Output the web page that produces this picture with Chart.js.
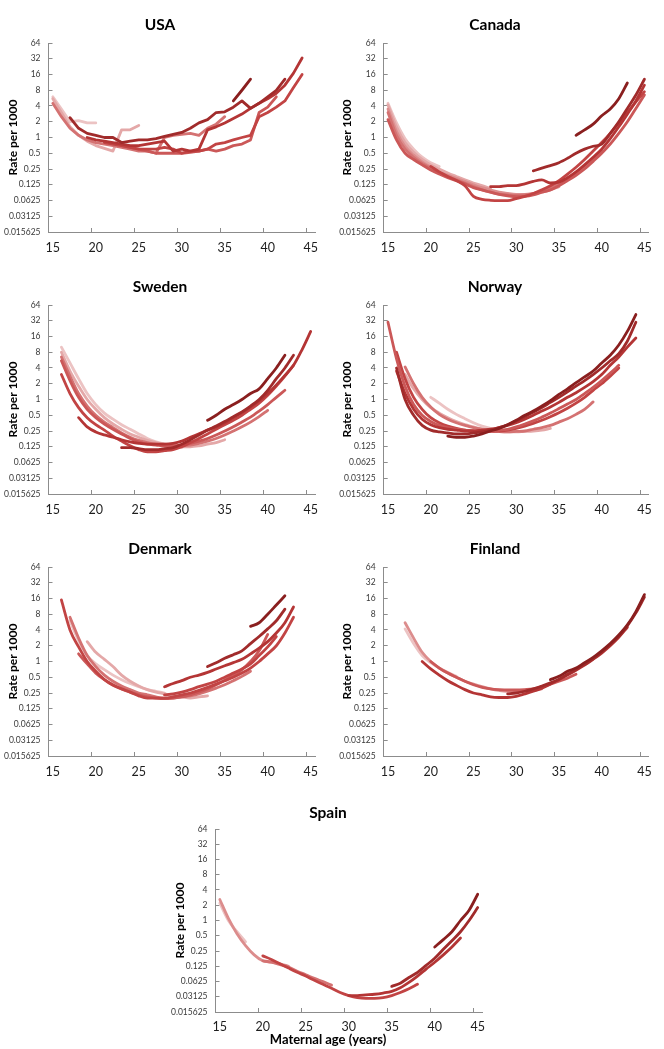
<!DOCTYPE html>
<html>
<head>
<meta charset="utf-8">
<script src="https://cdn.jsdelivr.net/npm/chart.js@4/dist/chart.umd.min.js"></script>
<style>
html,body{margin:0;padding:0;background:#ffffff;}
body{width:664px;height:1049px;position:relative;overflow:hidden;}
canvas{position:absolute;}
</style>
</head>
<body>
<canvas id="usa" width="332" height="262" style="left:0px;top:0px;"></canvas>
<canvas id="canada" width="332" height="262" style="left:332px;top:0px;"></canvas>
<canvas id="sweden" width="332" height="262" style="left:0px;top:262px;"></canvas>
<canvas id="norway" width="332" height="262" style="left:332px;top:262px;"></canvas>
<canvas id="denmark" width="332" height="262" style="left:0px;top:524px;"></canvas>
<canvas id="finland" width="332" height="262" style="left:332px;top:524px;"></canvas>
<canvas id="spain" width="340" height="261" style="left:160px;top:788px;"></canvas>
<script>
// ---------- categories & tick labels ----------
const ages = [15,16,17,18,19,20,21,22,23,24,25,26,27,28,29,30,31,32,33,34,35,36,37,38,39,40,41,42,43,44,45];
const yTickValues = [0.015625,0.03125,0.0625,0.125,0.25,0.5,1,2,4,8,16,32,64];
const yTickLabels = ['0.015625','0.03125','0.0625','0.125','0.25','0.5','1','2','4','8','16','32','64'];
const yAxisTitle = 'Rate per 1000';
const xAxisTitle = 'Maternal age (years)';

// ---------- USA ----------
const usaStartAge = [36, 17, 19, 21, 23, 15, 15, 15];
const usaRates = [
  [5, 8, 13],
  [2.4,1.5,1.2,1.1,1.0,1.0,0.8,0.85,0.9,0.9,0.95,1.05,1.15,1.25,1.5,1.9,2.2,3.0,3.1,3.8,5.0,3.6,4.5,6.0,8.0,13],
  [1.0,0.9,0.85,0.8,0.75,0.7,0.7,0.75,0.8,0.85,0.55,0.6,0.55,0.6,1.4,1.6,1.9,2.3,2.8,3.6,4.5,5.5,7,10,17,33],
  [0.8,0.75,0.7,0.65,0.6,0.6,0.6,0.65,0.6,0.5,0.55,0.55,0.6,0.75,0.8,0.9,1.0,1.1,2.5,3,3.8,5,9,16],
  [0.7,0.65,0.6,0.55,0.5,0.5,0.5,0.5,0.52,0.55,0.6,0.55,0.6,0.7,0.75,0.9,3.0,3.8,6],
  [4.5,2.5,1.5,1.1,0.9,0.8,0.75,0.7,0.65,0.6,0.55,0.55,0.5,1.0,1.1,1.15,1.2,1.1,1.5,1.8,2.5],
  [5.5,3,1.6,1.1,0.85,0.7,0.62,0.55,1.4,1.4,1.7],
  [6,3.5,2.0,2.1,1.9,1.9]
];

// ---------- Canada ----------
const canadaStartAge = [37, 32, 27, 20, 15, 15, 15, 15, 15];
const canadaRates = [
  [1.1,1.4,1.8,2.6,3.5,5.5,11],
  [0.23,0.26,0.29,0.33,0.4,0.5,0.6,0.68,0.75,1.2,2.0,3.6,6.5,13],
  [0.115,0.115,0.12,0.12,0.13,0.145,0.155,0.135,0.14,0.17,0.22,0.3,0.42,0.6,0.95,1.6,2.8,5,10],
  [0.28,0.22,0.18,0.15,0.12,0.075,0.066,0.063,0.062,0.062,0.068,0.075,0.085,0.1,0.12,0.15,0.2,0.27,0.38,0.55,0.8,1.2,1.9,3,4.8,7.5],
  [2.2,0.9,0.5,0.38,0.3,0.24,0.2,0.17,0.15,0.13,0.11,0.1,0.09,0.082,0.077,0.074,0.075,0.08,0.09,0.1,0.12,0.15,0.19,0.25,0.35,0.5,0.75,1.2,2.0,3.6,6.5],
  [3,1.1,0.6,0.42,0.32,0.26,0.21,0.18,0.155,0.135,0.115,0.1,0.09,0.083,0.08,0.078,0.08,0.085,0.095,0.11,0.13,0.16,0.21,0.28,0.38,0.55],
  [3.5,1.3,0.68,0.46,0.34,0.27,0.22,0.19,0.165,0.145,0.125,0.11,0.1,0.09,0.085,0.082,0.082,0.085,0.09,0.1,0.115],
  [4.2,1.6,0.8,0.52,0.38,0.3,0.25,0.21,0.18,0.155,0.135,0.12,0.105],
  [4.5,1.9,0.95,0.6,0.42,0.33,0.28]
];

// ---------- Sweden ----------
const swedenStartAge = [33, 23, 18, 16, 16, 16, 16, 16];
const swedenRates = [
  [0.4,0.5,0.65,0.8,1.0,1.3,1.6,2.5,4,7],
  [0.12,0.12,0.115,0.11,0.11,0.115,0.12,0.14,0.17,0.21,0.26,0.31,0.38,0.47,0.58,0.75,1.0,1.5,2.5,4,7],
  [0.45,0.3,0.24,0.21,0.19,0.17,0.155,0.145,0.14,0.14,0.14,0.145,0.16,0.19,0.22,0.26,0.3,0.36,0.45,0.56,0.72,0.95,1.3,1.9,2.9,4.5,9,20],
  [3,1.3,0.7,0.45,0.33,0.26,0.2,0.16,0.13,0.11,0.1,0.1,0.105,0.11,0.125,0.15,0.18,0.22,0.27,0.33,0.4,0.5,0.65,0.85,1.2,1.8,2.8,4.5],
  [5.5,2.3,1.1,0.65,0.45,0.34,0.27,0.22,0.18,0.155,0.14,0.135,0.13,0.13,0.135,0.145,0.16,0.18,0.21,0.25,0.3,0.37,0.46,0.6,0.8,1.1,1.5],
  [6.5,2.8,1.3,0.75,0.5,0.37,0.29,0.23,0.19,0.165,0.15,0.14,0.135,0.13,0.13,0.135,0.145,0.16,0.18,0.21,0.25,0.3,0.37,0.47,0.62],
  [8,3.5,1.8,1.0,0.65,0.45,0.34,0.27,0.22,0.19,0.165,0.15,0.14,0.13,0.125,0.125,0.13,0.14,0.15,0.17],
  [10,5,2.5,1.3,0.8,0.55,0.42,0.33,0.27,0.22,0.18,0.155,0.14,0.13,0.12]
];

// ---------- Norway ----------
const norwayStartAge = [22, 16, 16, 15, 16, 17, 17, 20];
const norwayRates = [
  [0.2,0.19,0.19,0.2,0.22,0.25,0.28,0.33,0.4,0.5,0.6,0.75,0.95,1.25,1.6,2.1,2.7,3.5,5,7,11,20,42],
  [4,1.0,0.5,0.32,0.26,0.24,0.23,0.22,0.22,0.23,0.24,0.26,0.29,0.33,0.39,0.47,0.57,0.7,0.88,1.1,1.4,1.8,2.3,3,4,5.5,7.5,13,30],
  [3.5,1.3,0.65,0.42,0.33,0.29,0.27,0.26,0.25,0.25,0.26,0.27,0.29,0.32,0.36,0.42,0.5,0.6,0.72,0.88,1.1,1.35,1.7,2.2,3,4.5,6.5,10,15],
  [30,6,1.8,0.8,0.5,0.38,0.32,0.29,0.27,0.26,0.25,0.25,0.25,0.26,0.27,0.3,0.34,0.39,0.46,0.55,0.67,0.82,1.0,1.3,1.7,2.3,3.2,4.5],
  [8,2.5,1.1,0.65,0.45,0.36,0.31,0.28,0.26,0.25,0.245,0.245,0.25,0.26,0.28,0.31,0.35,0.4,0.47,0.56,0.68,0.85,1.1,1.5,2,2.8,4],
  [4.2,2.0,1.1,0.72,0.52,0.42,0.36,0.32,0.29,0.27,0.255,0.245,0.24,0.245,0.25,0.27,0.29,0.32,0.37,0.43,0.52,0.65,0.9],
  [3,1.6,1.0,0.7,0.55,0.45,0.38,0.33,0.3,0.27,0.255,0.245,0.24,0.24,0.245,0.25,0.26,0.28],
  [1.1,0.85,0.65,0.52,0.43,0.36,0.31,0.28,0.26,0.25]
];

// ---------- Denmark ----------
const denmarkStartAge = [38, 33, 28, 28, 16, 18, 17, 19, 17];
const denmarkRates = [
  [4.7,5.5,8,12,18],
  [0.8,0.95,1.15,1.35,1.6,2.2,3,4.2,6,10],
  [0.33,0.38,0.43,0.5,0.55,0.62,0.72,0.83,0.95,1.1,1.4,1.8,2.4,3.5,5.5,11],
  [0.23,0.24,0.26,0.29,0.33,0.37,0.42,0.5,0.6,0.72,0.9,1.3,1.9,3],
  [15,4,1.9,1.0,0.65,0.45,0.35,0.3,0.26,0.22,0.2,0.2,0.2,0.21,0.23,0.25,0.28,0.32,0.37,0.43,0.5,0.6,0.75,1.0,1.4,2.0,3.5,7],
  [1.4,0.9,0.6,0.45,0.36,0.3,0.26,0.23,0.21,0.2,0.195,0.2,0.21,0.23,0.26,0.3,0.36,0.44,0.55,0.7,1.0,1.6,3.3],
  [7,2.8,1.3,0.8,0.55,0.42,0.34,0.29,0.25,0.23,0.21,0.2,0.2,0.21,0.22,0.24,0.27,0.31,0.36,0.43,0.52,0.65],
  [2.4,1.5,1.1,0.8,0.55,0.42,0.34,0.29,0.26,0.24,0.22,0.21,0.2,0.21,0.22],
  [6,2.5,1.3,0.9,0.7,0.55,0.45,0.38,0.33,0.29,0.27,0.25]
];

// ---------- Finland ----------
const finlandStartAge = [34, 29, 19, 20, 17, 17];
const finlandRates = [
  [0.45,0.52,0.65,0.75,0.95,1.2,1.6,2.2,3.2,5,9,19],
  [0.24,0.25,0.27,0.3,0.34,0.39,0.46,0.57,0.7,0.88,1.12,1.5,2.1,3.0,4.8,8.5,17],
  [1.0,0.72,0.55,0.43,0.35,0.29,0.25,0.23,0.21,0.205,0.205,0.215,0.24,0.27,0.31,0.37,0.45,0.55,0.68,0.85,1.1,1.45,2.0,2.9,4.5],
  [1.0,0.75,0.6,0.5,0.42,0.36,0.32,0.3,0.29,0.285,0.285,0.29,0.3,0.33,0.37,0.42,0.48,0.57],
  [5.5,2.8,1.5,1.0,0.75,0.6,0.5,0.42,0.37,0.33,0.3,0.28,0.27,0.27,0.27,0.28,0.3],
  [4.2,2.2,1.3,0.95,0.75,0.62,0.52]
];

// ---------- Spain ----------
const spainStartAge = [40, 35, 30, 20, 20, 15, 15];
const spainRates = [
  [0.3,0.42,0.6,1.0,1.6,3.3],
  [0.05,0.058,0.075,0.095,0.13,0.18,0.27,0.4,0.6,1.0,1.8],
  [0.033,0.033,0.034,0.035,0.037,0.04,0.047,0.06,0.08,0.11,0.15,0.21,0.3,0.45],
  [0.2,0.17,0.14,0.115,0.095,0.08,0.066,0.055,0.046,0.038,0.033,0.03,0.029,0.029,0.03,0.033,0.038,0.045,0.055],
  [0.16,0.15,0.135,0.12,0.1,0.085,0.072,0.062,0.053],
  [2.6,1.1,0.55,0.32,0.21,0.16,0.15,0.14,0.125],
  [2.2,1.0,0.6,0.38]
];

// ---------- styles (colours per series, layout per panel) ----------
const shades = ['#8a1f1f','#a12b2b','#b43535','#c24444','#cb5858','#d47272','#dc8d8d','#e4a8a8','#ecc3c3'];
const usaShade = [0,1,2,3,4,5,7,8];
const canadaShade = [0,1,2,3,4,5,6,7,8];
const swedenShade = [0,1,2,3,4,5,7,8];
const norwayShade = [0,1,2,4,3,5,7,8];
const denmarkShade = [0,1,2,3,3,4,5,7,8];
const finlandShade = [0,1,2,4,6,8];
const spainShade = [0,1,2,3,5,6,8];

// yW: width left of the plot; rW: spacer on the right that centres the title; padR: outer right padding
const geoLeft  = {yW:48.5, rW:5,   padR:12, yTitlePad:5.8,  tTop:15.7, tBot:8.7, xH:30,   xPad:7.5, subBot:1.2, sub:false};
const geoRight = {yW:51.7, rW:9.3, padR:6,  yTitlePad:8.3,  tTop:15.7, tBot:8.7, xH:30,   xPad:7.5, subBot:1.2, sub:false};
const geoSpain = {yW:55.5, rW:14,  padR:4,  yTitlePad:12.8, tTop:15.7, tBot:6.7, xH:20.2, xPad:6.5, subBot:1.2, sub:true};

const axisGrey = '#8c8c8c';

function buildSeries(starts, rates, shadeIdx, smooth) {
  return rates.map((r, i) => ({
    data: ages.map(a => {
      const k = a - starts[i];
      return (k >= 0 && k < r.length) ? r[k] : null;
    }),
    borderColor: shades[shadeIdx[i]],
    backgroundColor: shades[shadeIdx[i]],
    borderWidth: 2.8,
    pointRadius: 0,
    pointHoverRadius: 0,
    fill: false,
    spanGaps: false,
    tension: smooth ? 0.3 : 0,
    cubicInterpolationMode: smooth ? 'monotone' : 'default',
    borderCapStyle: 'round',
    borderJoinStyle: 'round'
  }));
}

function makeChart(id, title, starts, rates, shadeIdx, geo, smooth) {
  new Chart(document.getElementById(id), {
    type: 'line',
    data: { labels: ages, datasets: buildSeries(starts, rates, shadeIdx, smooth) },
    options: {
      responsive: false,
      animation: false,
      devicePixelRatio: 1,
      events: [],
      layout: { padding: { left: 0, right: geo.padR, top: 0, bottom: 0 } },
      plugins: {
        legend: { display: false },
        tooltip: { enabled: false },
        title: {
          display: true, text: title, color: '#000000',
          font: { family: 'Lato', size: 15.5, weight: 'bold', lineHeight: 1.2 },
          padding: { top: geo.tTop, bottom: geo.tBot }
        },
        subtitle: {
          display: geo.sub, position: 'bottom', text: xAxisTitle, color: '#000000',
          font: { family: 'Lato', size: 13, weight: 'bold', lineHeight: 1.2 },
          padding: { top: 0, bottom: geo.subBot }
        }
      },
      scales: {
        x: {
          type: 'category',
          offset: true,
          grid: {
            display: true, offset: true, drawOnChartArea: false, drawTicks: true,
            tickLength: -4, tickWidth: 1,
            tickColor: (ctx) => (ages[ctx.index] % 5 === 0 ? axisGrey : 'rgba(0,0,0,0)')
          },
          border: { display: true, color: axisGrey, width: 1 },
          ticks: {
            autoSkip: false, maxRotation: 0, minRotation: 0, padding: geo.xPad,
            color: '#1e1e1e', font: { family: 'Lato', size: 12.5, lineHeight: 2 },
            callback: (v, i) => (ages[i] % 5 === 0 ? String(ages[i]) : '')
          },
          afterFit: (s) => { s.height = geo.xH; }
        },
        y: {
          type: 'logarithmic',
          min: yTickValues[0],
          max: yTickValues[yTickValues.length - 1],
          afterBuildTicks: (s) => { s.ticks = yTickValues.map(v => ({ value: v })); },
          afterFit: (s) => { s.width = geo.yW; },
          grid: {
            display: true, drawOnChartArea: false, drawTicks: true,
            tickLength: -4, tickWidth: 1, tickColor: axisGrey
          },
          border: { display: true, color: axisGrey, width: 1 },
          ticks: {
            autoSkip: false, padding: 12, color: '#3a3a3a',
            font: { family: 'Lato', size: 8.5 },
            callback: (v, i) => yTickLabels[i]
          },
          title: {
            display: true, text: yAxisTitle, color: '#000000',
            font: { family: 'Lato', size: 12, weight: 'bold', lineHeight: 1.2 },
            padding: { top: geo.yTitlePad, bottom: 0 }
          }
        },
        spacer: {
          type: 'linear',
          axis: 'y',
          position: 'right',
          display: true,
          grid: { display: false, drawTicks: false },
          border: { display: false },
          ticks: { display: false },
          afterFit: (s) => { s.width = geo.rW; }
        }
      }
    }
  });
}

makeChart('usa', 'USA', usaStartAge, usaRates, usaShade, geoLeft, false);
makeChart('canada', 'Canada', canadaStartAge, canadaRates, canadaShade, geoRight, true);
makeChart('sweden', 'Sweden', swedenStartAge, swedenRates, swedenShade, geoLeft, true);
makeChart('norway', 'Norway', norwayStartAge, norwayRates, norwayShade, geoRight, true);
makeChart('denmark', 'Denmark', denmarkStartAge, denmarkRates, denmarkShade, geoLeft, true);
makeChart('finland', 'Finland', finlandStartAge, finlandRates, finlandShade, geoRight, true);
makeChart('spain', 'Spain', spainStartAge, spainRates, spainShade, geoSpain, true);
</script>
</body>
</html>
